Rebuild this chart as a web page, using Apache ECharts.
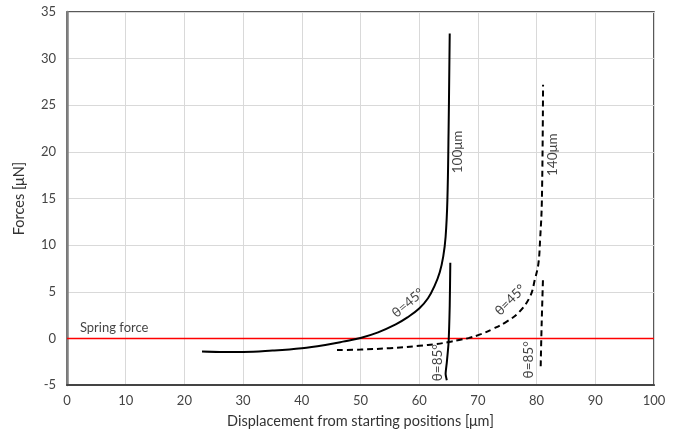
<!DOCTYPE html>
<html>
<head>
<meta charset="utf-8">
<script src="https://cdn.jsdelivr.net/npm/echarts@6/dist/echarts.min.js"></script>
<style>
  html, body { margin: 0; padding: 0; background: #fff; }
  #chart { width: 682px; height: 434px; }
</style>
</head>
<body>
<div id="chart"></div>
<script>
// 100um beam, theta=45 (solid)
var x100a = [23, 26, 30, 35, 40, 44, 47, 50, 53, 56, 58, 60, 61.5, 62.6, 63.5, 64.1, 64.5, 64.8, 65.0, 65.2]
var y100a = [-1.4, -1.45, -1.45, -1.3, -1.05, -0.7, -0.35, 0.05, 0.65, 1.5, 2.25, 3.2, 4.3, 5.6, 7.1, 8.8, 10.9, 14.8, 22, 32.7]
// 100um beam, theta=85 (solid)
var x100b = [64.7, 64.5, 64.7, 65.0, 65.2, 65.3]
var y100b = [-4.5, -3.8, -2.6, -0.5, 3.5, 8.1]
// 140um beam, theta=45 (dashed)
var x140a = [46, 50, 55, 60, 63, 65, 67, 68.5, 70.5, 72.5, 74.9, 77.0, 78.9, 79.7, 80.3, 80.6, 80.9, 81.1]
var y140a = [-1.25, -1.2, -1.05, -0.8, -0.6, -0.4, -0.15, 0.05, 0.45, 1.0, 1.8, 2.8, 4.5, 6.3, 8.0, 10.6, 14.8, 27.2]
// 140um beam, theta=85 (dashed)
var x140b = [80.7, 80.8, 80.95, 81.1]
var y140b = [-3.0, 0, 3.5, 6.6]
// spring force
var springX = [0, 100]
var springY = [0, 0]
// annotations: text, x, y, rotation
var noteText = ['100μm', '140μm', 'θ=45°', 'θ=45°', 'θ=85°', 'θ=85°']
var noteX = [66.6, 82.8, 58.1, 75.5, 63.2, 78.7]
var noteY = [20.0, 19.7, 3.8, 4.1, -2.6, -2.3]
var noteRot = [90, 90, 40, 45, 90, 90]

function pairs(xs, ys) {
  return xs.map(function (v, i) { return [v, ys[i]] })
}

var font = 'Lato'
var chart = echarts.init(document.getElementById('chart'))

var lineBase = {
  type: 'line',
  showSymbol: false,
  smooth: 0.4,
  lineStyle: { color: '#000', width: 2 },
  z: 3
}

chart.setOption({
  animation: false,
  backgroundColor: '#fff',
  textStyle: { fontFamily: font },
  grid: {
    left: 67, right: 28, top: 12, bottom: 49,
    show: true, borderColor: '#222', borderWidth: 1.5
  },
  xAxis: {
    type: 'value',
    min: 0, max: 100, interval: 10,
    name: 'Displacement from starting positions [μm]',
    nameLocation: 'middle',
    nameGap: 29,
    nameTextStyle: { fontSize: 14.5, color: '#333', fontFamily: font },
    axisLine: { onZero: false, lineStyle: { color: '#444', width: 2 } },
    axisTick: { show: false },
    axisLabel: { fontSize: 13, color: '#444', margin: 9, fontFamily: font },
    splitLine: { lineStyle: { color: '#d9d9d9', width: 1 } }
  },
  yAxis: {
    type: 'value',
    min: -5, max: 35, interval: 5,
    name: 'Forces [μN]',
    nameLocation: 'middle',
    nameGap: 40,
    nameTextStyle: { fontSize: 14.5, color: '#333', fontFamily: font },
    axisLine: { lineStyle: { color: '#808080', width: 2.5 } },
    axisTick: { show: false },
    axisLabel: { fontSize: 13, color: '#444', margin: 11, fontFamily: font },
    splitLine: { lineStyle: { color: '#d9d9d9', width: 1 } }
  },
  series: [
    Object.assign({}, lineBase, { name: 'spring', smooth: false, data: pairs(springX, springY),
      lineStyle: { color: '#ff0000', width: 1.5 }, z: 2 }),
    Object.assign({}, lineBase, { name: '100-45', data: pairs(x100a, y100a) }),
    Object.assign({}, lineBase, { name: '100-85', smooth: 0.2, data: pairs(x100b, y100b) }),
    Object.assign({}, lineBase, { name: '140-45', data: pairs(x140a, y140a),
      lineStyle: { color: '#000', width: 2, type: [6, 4] } }),
    Object.assign({}, lineBase, { name: '140-85', data: pairs(x140b, y140b),
      lineStyle: { color: '#000', width: 2, type: [6, 4] } }),
    {
      type: 'scatter',
      symbolSize: 0,
      z: 5,
      data: noteText.map(function (t, i) {
        return {
          value: [noteX[i], noteY[i]],
          label: {
            show: true, formatter: t, position: 'inside', rotate: noteRot[i],
            fontSize: 13.5, color: '#111', fontFamily: font
          }
        }
      })
    },
    {
      type: 'scatter',
      symbolSize: 0,
      z: 5,
      data: [{
        value: [2.2, 1.1],
        label: { show: true, formatter: 'Spring force', position: 'right', distance: 0,
          fontSize: 13, color: '#111', fontFamily: font }
      }]
    }
  ]
})
</script>
</body>
</html>
